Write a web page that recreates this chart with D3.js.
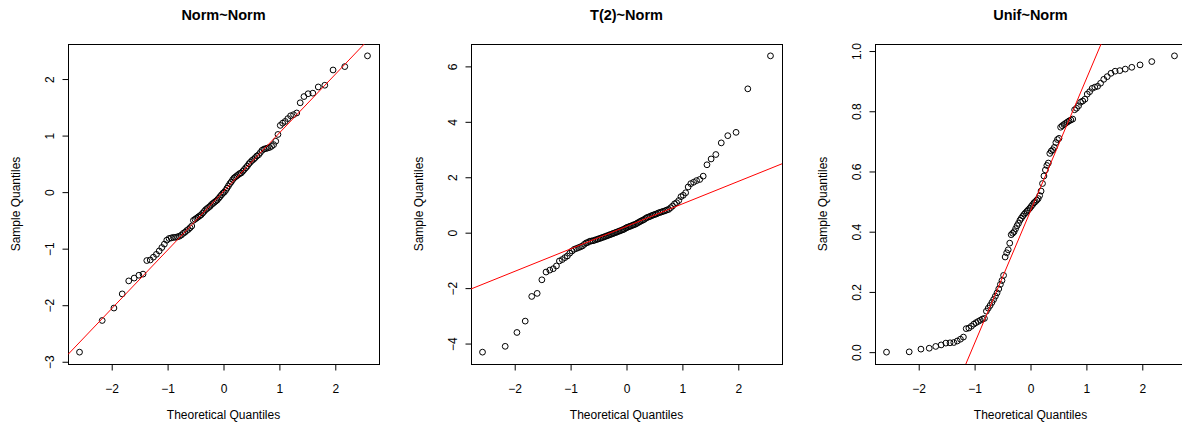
<!DOCTYPE html>
<html>
<head>
<meta charset="utf-8">
<script src="https://cdn.jsdelivr.net/npm/d3@7"></script>
<style>
  body { margin: 0; background: #fff; }
  svg { display: block; font-family: "Liberation Sans", Arial, Helvetica, sans-serif; }
</style>
</head>
<body>
<div id="chart"></div>
<script>
// Three normal Q-Q plots side by side (qqnorm + qqline style).

const titles = ['Norm~Norm', 'T(2)~Norm', 'Unif~Norm'];

// sorted sample values (n = 100 each)
const normSample = [
  -2.83, -2.27, -2.05, -1.80, -1.57, -1.52, -1.47, -1.45, -1.21, -1.20,
  -1.15, -1.10, -1.04, -0.98, -0.92, -0.85, -0.82, -0.81, -0.80, -0.80,
  -0.79, -0.78, -0.76, -0.73, -0.71, -0.68, -0.66, -0.63, -0.60, -0.50,
  -0.48, -0.46, -0.44, -0.42, -0.40, -0.37, -0.34, -0.31, -0.29, -0.27,
  -0.25, -0.22, -0.20, -0.18, -0.16, -0.14, -0.11, -0.08, -0.05, -0.02,
  0.00, 0.03, 0.07, 0.11, 0.15, 0.18, 0.22, 0.25, 0.27, 0.29,
  0.31, 0.33, 0.34, 0.37, 0.40, 0.43, 0.46, 0.50, 0.53, 0.56,
  0.58, 0.61, 0.64, 0.66, 0.70, 0.74, 0.76, 0.77, 0.78, 0.79,
  0.81, 0.84, 0.90, 1.02, 1.18, 1.22, 1.25, 1.30, 1.35, 1.37,
  1.40, 1.58, 1.69, 1.74, 1.75, 1.86, 1.89, 2.16, 2.22, 2.41
];
const tSample = [
  -4.31, -4.10, -3.60, -3.19, -2.30, -2.19, -1.70, -1.42, -1.35, -1.30,
  -1.20, -1.02, -0.97, -0.90, -0.84, -0.74, -0.66, -0.60, -0.57, -0.54,
  -0.51, -0.48, -0.42, -0.37, -0.35, -0.31, -0.30, -0.29, -0.27, -0.25,
  -0.23, -0.21, -0.19, -0.17, -0.15, -0.13, -0.11, -0.09, -0.07, -0.05,
  -0.03, -0.01, 0.01, 0.03, 0.05, 0.07, 0.09, 0.11, 0.13, 0.17,
  0.19, 0.21, 0.23, 0.25, 0.27, 0.29, 0.31, 0.34, 0.37, 0.40,
  0.43, 0.45, 0.48, 0.52, 0.55, 0.57, 0.59, 0.62, 0.64, 0.66,
  0.68, 0.71, 0.73, 0.75, 0.77, 0.79, 0.82, 0.84, 0.90, 0.96,
  1.04, 1.08, 1.16, 1.30, 1.35, 1.44, 1.65, 1.77, 1.82, 1.88,
  1.92, 2.04, 2.45, 2.66, 2.82, 3.24, 3.50, 3.62, 5.19, 6.38
];
const unifSample = [
  0.000, 0.001, 0.010, 0.013, 0.019, 0.024, 0.030, 0.031, 0.032, 0.037,
  0.043, 0.050, 0.078, 0.080, 0.086, 0.093, 0.098, 0.102, 0.106, 0.110,
  0.112, 0.136, 0.146, 0.155, 0.165, 0.175, 0.186, 0.197, 0.210, 0.225,
  0.238, 0.255, 0.316, 0.330, 0.340, 0.362, 0.390, 0.395, 0.400, 0.410,
  0.420, 0.428, 0.438, 0.445, 0.452, 0.458, 0.463, 0.468, 0.473, 0.478,
  0.484, 0.490, 0.496, 0.500, 0.505, 0.510, 0.520, 0.535, 0.560, 0.585,
  0.605, 0.620, 0.628, 0.660, 0.668, 0.672, 0.680, 0.696, 0.706, 0.710,
  0.747, 0.752, 0.756, 0.760, 0.764, 0.768, 0.771, 0.774, 0.805, 0.810,
  0.818, 0.830, 0.834, 0.840, 0.857, 0.865, 0.876, 0.880, 0.883, 0.893,
  0.906, 0.915, 0.926, 0.933, 0.935, 0.940, 0.946, 0.954, 0.965, 0.984
];

const xTicks = [-2, -1, 0, 1, 2];
const yTicksNorm = [-3, -2, -1, 0, 1, 2];
const yTicksT = [-4, -2, 0, 2, 4, 6];
const yTicksUnif = [0, 0.2, 0.4, 0.6, 0.8, 1.0];

const W = 1182, H = 426;
const PANEL_LEFT = [68, 471, 875];
const TOP = 44, PW = 311, PH = 320;
const TICK = 6;

// Acklam's inverse normal CDF (what qqnorm uses for the x positions)
function qnorm(p) {
  const a = [-3.969683028665376e+01, 2.209460984245205e+02, -2.759285104469687e+02,
    1.383577518672690e+02, -3.066479806614716e+01, 2.506628277459239e+00];
  const b = [-5.447609879822406e+01, 1.615858368580409e+02, -1.556989798598866e+02,
    6.680131188771972e+01, -1.328068155288572e+01];
  const c = [-7.784894002430293e-03, -3.223964580411365e-01, -2.400758277161838e+00,
    -2.549732539343734e+00, 4.374664141464968e+00, 2.938163982698783e+00];
  const d = [7.784695709041462e-03, 3.224671290700398e-01, 2.445134137142996e+00,
    3.754408661907416e+00];
  const lo = 0.02425;
  if (p < lo || p > 1 - lo) {
    const q = Math.sqrt(-2 * Math.log(p < lo ? p : 1 - p));
    const v = (((((c[0] * q + c[1]) * q + c[2]) * q + c[3]) * q + c[4]) * q + c[5]) /
      ((((d[0] * q + d[1]) * q + d[2]) * q + d[3]) * q + 1);
    return p < lo ? v : -v;
  }
  const q = p - 0.5, r = q * q;
  return (((((a[0] * r + a[1]) * r + a[2]) * r + a[3]) * r + a[4]) * r + a[5]) * q /
    (((((b[0] * r + b[1]) * r + b[2]) * r + b[3]) * r + b[4]) * r + 1);
}

const panels = [
  { title: titles[0], sample: normSample, yTicks: yTicksNorm, fmt: d3.format('d') },
  { title: titles[1], sample: tSample, yTicks: yTicksT, fmt: d3.format('d') },
  { title: titles[2], sample: unifSample, yTicks: yTicksUnif, fmt: d3.format('.1f') },
];

const svg = d3.select('#chart').append('svg')
  .attr('width', W).attr('height', H);

// R-style 4% padding of the data range
const pad = ([a, b]) => { const r = b - a; return [a - 0.04 * r, b + 0.04 * r]; };

panels.forEach((p, k) => {
  const sorted = p.sample.slice().sort(d3.ascending);
  const n = sorted.length;
  const pts = sorted.map((v, i) => ({ x: qnorm((i + 0.5) / n), y: v }));

  const x = d3.scaleLinear().domain(pad(d3.extent(pts, d => d.x))).range([0, PW]);
  const y = d3.scaleLinear().domain(pad(d3.extent(pts, d => d.y))).range([PH, 0]);

  const g = svg.append('g').attr('transform', `translate(${PANEL_LEFT[k]},${TOP})`);

  const clipId = `clip${k}`;
  g.append('clipPath').attr('id', clipId)
    .append('rect').attr('width', PW).attr('height', PH);

  // axes
  const xAxisG = g.append('g')
    .attr('transform', `translate(0,${PH + 0.5})`)
    .call(d3.axisBottom(x).tickValues(xTicks).tickSize(TICK).tickFormat(d3.format('d')));
  xAxisG.select('.domain').remove();
  xAxisG.selectAll('text').attr('y', 28).attr('dy', 0).attr('font-size', 12).attr('fill', '#000');
  xAxisG.append('line')
    .attr('x1', x(xTicks[0])).attr('x2', x(xTicks[xTicks.length - 1]))
    .attr('stroke', '#000');

  const yAxisG = g.append('g')
    .attr('transform', 'translate(0.5,0)')
    .call(d3.axisLeft(y).tickValues(p.yTicks).tickSize(TICK).tickFormat(p.fmt));
  yAxisG.select('.domain').remove();
  yAxisG.selectAll('text')
    .attr('x', null).attr('dy', 0)
    .attr('text-anchor', 'middle')
    .attr('transform', 'translate(-15,0) rotate(-90)')
    .attr('font-size', 12).attr('fill', '#000');
  yAxisG.append('line')
    .attr('y1', y(p.yTicks[0])).attr('y2', y(p.yTicks[p.yTicks.length - 1]))
    .attr('stroke', '#000');

  // plot box
  g.append('rect')
    .attr('x', 0.5).attr('y', 0.5).attr('width', PW).attr('height', PH)
    .attr('fill', 'none').attr('stroke', '#000');

  // points
  g.append('g').selectAll('circle').data(pts).join('circle')
    .attr('cx', d => x(d.x)).attr('cy', d => y(d.y))
    .attr('r', 2.9)
    .attr('fill', 'none').attr('stroke', '#000').attr('stroke-width', 1);

  // qqline through the quartiles
  const q1 = d3.quantile(sorted, 0.25), q3 = d3.quantile(sorted, 0.75);
  const t1 = qnorm(0.25), t3 = qnorm(0.75);
  const slope = (q3 - q1) / (t3 - t1);
  const icpt = q1 - slope * t1;
  const [xa, xb] = x.domain();
  g.append('line')
    .attr('clip-path', `url(#${clipId})`)
    .attr('x1', x(xa)).attr('y1', y(icpt + slope * xa))
    .attr('x2', x(xb)).attr('y2', y(icpt + slope * xb))
    .attr('stroke', '#ff0000').attr('stroke-width', 1);

  // titles and labels
  g.append('text')
    .attr('x', PW / 2).attr('y', 20 - TOP)
    .attr('text-anchor', 'middle')
    .attr('font-size', 14.5).attr('font-weight', 'bold')
    .text(p.title);
  g.append('text')
    .attr('x', PW / 2).attr('y', 419 - TOP)
    .attr('text-anchor', 'middle').attr('font-size', 12)
    .text('Theoretical Quantiles');
  g.append('text')
    .attr('transform', `translate(-48,${PH / 2}) rotate(-90)`)
    .attr('text-anchor', 'middle').attr('font-size', 12)
    .text('Sample Quantiles');
});
</script>
</body>
</html>
